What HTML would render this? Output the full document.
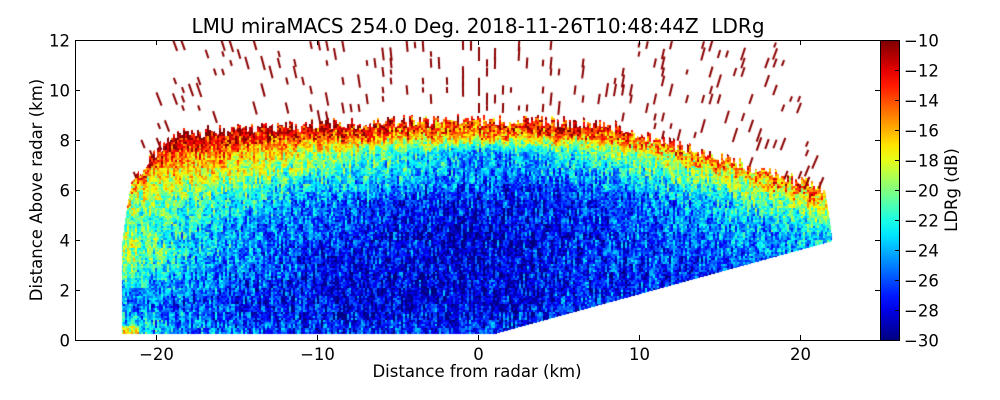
<!DOCTYPE html>
<html><head><meta charset="utf-8"><style>
html,body{margin:0;padding:0;background:#fff;}
#wrap{position:relative;width:1000px;height:400px;font-family:"DejaVu Sans","Liberation Sans",sans-serif;color:#000;overflow:hidden;}
.t{position:absolute;font-size:15px;white-space:nowrap;}
</style></head><body>
<div id="wrap">
<div class="t" style="left:478px;top:14px;transform:translateX(-50%);font-size:20px;">LMU miraMACS 254.0 Deg. 2018-11-26T10:48:44Z&nbsp; LDRg</div>
<canvas id="plot" width="805" height="300" style="position:absolute;left:75px;top:40px;"></canvas>
<svg id="axes" width="1000" height="400" style="position:absolute;left:0;top:0;"></svg>
</div>
<script>
const xTicks=[-20,-10,0,10,20];
const yTicks=[0,2,4,6,8,10,12];
const cbTicks=[-10,-12,-14,-16,-18,-20,-22,-24,-26,-28,-30];
const gridHeights=[0.5,1.5,2.5,3.5,4.5,5.5,6.5,7.5,8.3];
const gridXs=[-22,-18,-14,-10,-6,-2,2,6,10,14,18,22];
const ldrRow0=[-22,-25,-26,-27,-27,-27,-27,-27,-27,-27,-27,-27];
const ldrRow1=[-25,-26,-27,-28,-28,-28,-28,-27,-27,-27,-27,-27];
const ldrRow2=[-22,-25,-26,-27,-28,-28,-28,-27,-27,-27,-27,-27];
const ldrRow3=[-18,-23,-25,-27,-27,-28,-28,-27,-27,-26,-25,-24];
const ldrRow4=[-20,-23,-25,-26,-27,-28,-28,-27,-26,-25,-24,-22];
const ldrRow5=[-19,-21,-23,-25,-26,-27,-27,-27,-26,-24,-21,-17];
const ldrRow6=[-16,-18,-20,-22,-23,-25,-26,-25,-23,-20,-17,-14];
const ldrRow7=[-13,-14,-16,-19,-21,-23,-24,-22,-19,-16,-13,-12];
const ldrRow8=[-11,-11,-12,-13,-14,-15,-15,-14,-13,-12,-11,-11];
const ldrRows=[ldrRow0,ldrRow1,ldrRow2,ldrRow3,ldrRow4,ldrRow5,ldrRow6,ldrRow7,ldrRow8];

const X0=75,X1=880,Y0=340,Y1=40;
const xs=v=>X0+(v+25)/50*(X1-X0);
const ys=v=>Y0-v/12*(Y0-Y1);
const cbY=v=>Y1+(-10-v)/20*(Y0-Y1);

function jet(t){t=Math.max(0,Math.min(1,t));
 const f=c=>Math.max(0,Math.min(1,1.5-Math.abs(4*t-c)));
 return [f(3)*255|0,f(2)*255|0,f(1)*255|0];}
function hash(a,b){let h=(a*374761393+b*668265263)|0;h=(h^(h>>>13))*1274126177|0;return ((h^(h>>>16))>>>0)/4294967296;}
function field(x,y){
 let fi=(x-gridXs[0])/4;fi=Math.max(0,Math.min(gridXs.length-1.001,fi));
 let hi=0;while(hi<gridHeights.length-2&&y>gridHeights[hi+1])hi++;
 let ft=(y-gridHeights[hi])/(gridHeights[hi+1]-gridHeights[hi]);ft=Math.max(0,Math.min(1,ft));
 const i=Math.floor(fi),fx=fi-i;
 const v=(r)=>ldrRows[r][i]*(1-fx)+ldrRows[r][i+1]*fx;
 return v(hi)*(1-ft)+v(hi+1)*ft;}
function topAt(x){
 let t=8.5+0.3*Math.cos(x/8);
 if(x>8)t-= (x-8)*0.16;
 if(x<-19)t-=(-19-x)*0.8;
 return t;}

const cv=document.getElementById('plot'),ctx=cv.getContext('2d');
const img=ctx.createImageData(805,300);
const W=805,H=300;
for(let py=0;py<H;py++){for(let px=0;px<W;px++){
 const x=(px+0.5)/W*50-25, y=(H-py-0.5)/H*12;
 const r=Math.hypot(x,y);
 if(r>22.4||x<-22.1||y<0.25)continue;
 if(x>0&&y<x*0.177+0.05&&x>1.2)continue;
 const top=topAt(x)+0.5*(hash(px>>1,7)-0.5);
 if(y>top)continue;
 const bx=px>>1,by=py>>1;
 let v=field(x,y)+(hash(bx,by>>2)-0.5)*5+(hash(bx,by)-0.5)*4;
 if(y>top-0.6&&hash(bx+11,by)>0.6)v+=3;
 if(x<-21&&y<0.55)v+=5;
 const c=jet((v+30)/20),k=(py*W+px)*4;
 img.data[k]=c[0];img.data[k+1]=c[1];img.data[k+2]=c[2];img.data[k+3]=255;}}
ctx.putImageData(img,0,0);
ctx.strokeStyle='#8a0000';ctx.lineWidth=2;
function streak(cx,cy,len,x){
 const lean=x*0.02;
 ctx.beginPath();ctx.moveTo(cx-lean*len/2,cy+len/2);ctx.lineTo(cx+lean*len/2,cy-len/2);ctx.stroke();}
for(let gx=0;gx<W;gx+=8){for(let gy=0;gy<130;gy+=9){
 const x=(gx+4)/W*50-25,y=(H-gy-5)/H*12;
 if(Math.hypot(x,y)>22.3||y<topAt(x)+0.2)continue;
 if(x>0&&y<x*0.177)continue;
 if(hash(gx,gy+3)>0.25)continue;
 streak(gx+4,gy+5,5+hash(gy,gx)*9,x);}}
for(let gx=0;gx<W;gx+=7){for(let gy=130;gy<210;gy+=8){
 const x=(gx+4)/W*50-25,y=(H-gy-5)/H*12;
 if(Math.hypot(x,y)>22.3||Math.abs(x)<12||y<topAt(x))continue;
 if(x>0&&y<x*0.177)continue;
 if(hash(gx+5,gy)>0.3)continue;
 streak(gx+4,gy+5,6+hash(gy,gx+1)*8,x);}}

const svg=document.getElementById('axes'),NS='http://www.w3.org/2000/svg';
function mk(tag,attrs,parent){const e=document.createElementNS(NS,tag);for(const k in attrs)e.setAttribute(k,attrs[k]);(parent||svg).appendChild(e);return e;}
const FF='DejaVu Sans, Liberation Sans, sans-serif';
const FS=16.5;
const defs=mk('defs',{});
const grad=mk('linearGradient',{id:'jetg',x1:0,y1:1,x2:0,y2:0},defs);
for(let i=0;i<=20;i++){const c=jet(i/20);mk('stop',{offset:i/20,'stop-color':`rgb(${c[0]},${c[1]},${c[2]})`},grad);}
const cb=mk('rect',{x:880.5,y:40.5,width:19,height:300,fill:'url(#jetg)',stroke:'#000','stroke-width':1});

const frame=mk('rect',{x:X0+0.5,y:Y1+0.5,width:X1-X0,height:Y0-Y1,fill:'none',stroke:'#000','stroke-width':1});

xTicks.forEach(v=>{const x=Math.round(xs(v))+0.5;
 mk('line',{x1:x,y1:Y0,x2:x,y2:Y0-5,stroke:'#000'});mk('line',{x1:x,y1:Y1,x2:x,y2:Y1+5,stroke:'#000'});
 const t=mk('text',{x:x,y:Y0+20,'font-size':FS,'text-anchor':'middle','font-family':FF});
 t.textContent=(v<0?'\u2212':'')+Math.abs(v);
 });
yTicks.forEach(v=>{const y=Math.round(ys(v))+0.5;
 mk('line',{x1:X0,y1:y,x2:X0+5,y2:y,stroke:'#000'});mk('line',{x1:X1,y1:y,x2:X1-5,y2:y,stroke:'#000'});
 const t=mk('text',{x:X0-5,y:y+6,'font-size':FS,'text-anchor':'end','font-family':FF});
 t.textContent=v;
 });
cbTicks.forEach(v=>{const y=Math.round(cbY(v))+0.5;
 mk('line',{x1:895,y1:y,x2:899,y2:y,stroke:'#000'});
 const t=mk('text',{x:904,y:y+6,'font-size':FS,'font-family':FF});
 t.textContent='\u2212'+Math.abs(v);
 });
const xl=mk('text',{x:477,y:377,'font-size':FS,'text-anchor':'middle','font-family':FF});
xl.textContent='Distance from radar (km)';

const yl=mk('text',{x:0,y:0,'font-size':FS,'text-anchor':'middle','font-family':FF,transform:'translate(42,190) rotate(-90)'});
yl.textContent='Distance Above radar  (km)';

const cl=mk('text',{x:0,y:0,'font-size':FS,'text-anchor':'middle','font-family':FF,transform:'translate(957,190) rotate(-90)'});
cl.textContent='LDRg (dB)';

</script>
</body></html>
